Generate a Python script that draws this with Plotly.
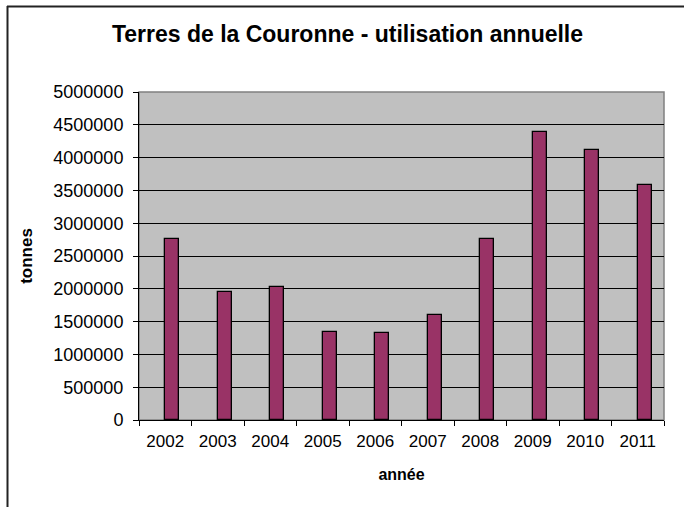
import plotly.graph_objects as go

# data
years = ["2002", "2003", "2004", "2005", "2006", "2007", "2008", "2009", "2010", "2011"]
tonnes = [2755000, 1955000, 2025000, 1340000, 1320000, 1605000, 2760000, 4385000, 4120000, 3580000]
y_ticks = [0, 500000, 1000000, 1500000, 2000000, 2500000, 3000000, 3500000, 4000000, 4500000, 5000000]

W, H = 684, 507
L, R, T, B = 139, 664, 92, 420  # plot area in pixels


def px(x):
    return (x - L) / (R - L)


def py(y):
    return (B - y) / (B - T)


fig = go.Figure()
fig.add_trace(go.Bar(
    x=years, y=tonnes,
    width=0.27, offset=0,
    marker=dict(color="#993366", line=dict(color="black", width=1.3)),
))

font = "Liberation Sans, Arial, sans-serif"
fig.update_layout(
    width=W, height=H,
    margin=dict(l=L, r=W - R, t=T, b=H - B),
    paper_bgcolor="white",
    plot_bgcolor="#C0C0C0",
    showlegend=False,
    font=dict(family=font, size=17, color="black"),
    title=dict(text="<b>Terres de la Couronne - utilisation annuelle</b>",
               x=0.508, xanchor="center", y=1 - 34 / H, yanchor="middle",
               font=dict(size=23)),
    bargap=0,
)
fig.update_xaxes(
    type="category", tickson="boundaries", ticks="outside", ticklen=5,
    tickcolor="black", showline=True, linecolor="black", linewidth=1,
    ticklabelstandoff=6,
    showgrid=False, title=dict(text="<b>année</b>", font=dict(size=16), standoff=18),
    range=[-0.5, len(years) - 0.5],
)
fig.update_yaxes(
    range=[0, 5000000], tickvals=y_ticks, tickformat="d", ticks="outside",
    ticklen=5, tickcolor="black", showline=True, linecolor="black", linewidth=1,
    ticklabelstandoff=6, tickfont=dict(size=18),
    showgrid=True, gridcolor="black", gridwidth=1, zeroline=False,
    title=dict(text="<b>tonnes</b>", font=dict(size=17), standoff=16),
)

# plot area frame (grey) and the chart's outer border
fig.add_shape(type="rect", xref="paper", yref="paper", x0=0, x1=1, y0=0, y1=1,
              line=dict(color="#808080", width=1.5), layer="below")
fig.add_shape(type="line", xref="paper", yref="paper",
              x0=px(7.5), x1=px(7.5), y0=py(6), y1=py(H + 5),
              line=dict(color="#222222", width=2))
fig.add_shape(type="line", xref="paper", yref="paper",
              x0=px(7), x1=px(W + 5), y0=py(6.5), y1=py(6.5),
              line=dict(color="#222222", width=2))

# page body has an 8px default margin; drop it so the figure sits at 0,0
fig.write_html("out.html", config={"displayModeBar": False},
               post_script="document.body.style.margin='0';")
